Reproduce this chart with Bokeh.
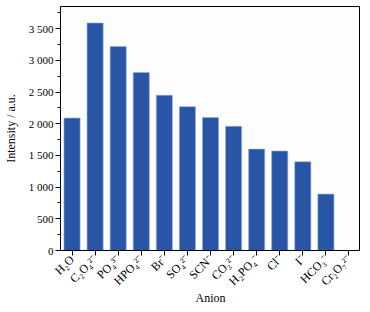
import math
from bokeh.plotting import figure
from bokeh.models import ColumnDataSource, FactorRange, Range1d, FixedTicker
from bokeh.embed import file_html
from bokeh.resources import INLINE

anions = ["H₂O", "C₂O₄²⁻", "PO₄³⁻", "HPO₄²⁻", "Br⁻", "SO₄²⁻", "SCN⁻",
          "CO₃²⁻", "H₂PO₄⁻", "Cl⁻", "I⁻", "HCO₃⁻", "Cr₂O₇²⁻"]
intensity = [2090, 3590, 3220, 2810, 2450, 2270, 2100, 1960, 1600, 1570, 1400, 890, 0]
y_ticks = [0, 500, 1000, 1500, 2000, 2500, 3000, 3500]
y_tick_labels = ["0", "500", "1 000", "1 500", "2 000", "2 500", "3 000", "3 500"]

src = ColumnDataSource(dict(x=anions, y=intensity))

p = figure(frame_width=300, frame_height=244, x_range=FactorRange(*anions),
           y_range=Range1d(0, 3850), output_backend="svg", toolbar_location=None,
           min_border_left=0, min_border_right=0, min_border_top=6, min_border_bottom=0)
p.vbar(x="x", top="y", width=0.7, source=src, fill_color="#2855a6",
       line_color="#9db4dd", line_width=0.6)

FONT = "Liberation Serif"
p.xgrid.visible = False
p.ygrid.visible = False
p.outline_line_color = "black"
p.outline_line_width = 1
p.background_fill_color = "#fdfdfd"
p.border_fill_color = "white"

p.yaxis.ticker = FixedTicker(ticks=y_ticks, minor_ticks=[v + 250 for v in y_ticks])
p.yaxis.major_label_overrides = {v: l for v, l in zip(y_ticks, y_tick_labels)}
p.yaxis.axis_label = "Intensity / a.u."
p.xaxis.axis_label = "Anion"
p.xaxis.major_label_orientation = math.pi / 4

for ax in (p.xaxis[0], p.yaxis[0]):
    ax.axis_line_color = "black"
    ax.major_tick_line_color = "black"
    ax.minor_tick_line_color = "black"
    ax.major_tick_out = 5
    ax.major_tick_in = 0
    ax.minor_tick_out = 3
    ax.minor_tick_in = 0
    ax.major_label_text_font = FONT
    ax.major_label_text_color = "black"
    ax.axis_label_text_font = FONT
    ax.axis_label_text_font_size = "12px"
    ax.axis_label_text_font_style = "normal"
    ax.axis_label_text_color = "black"
    ax.major_label_standoff = 2
    ax.axis_label_standoff = 2

p.yaxis.major_label_text_font_size = "11px"
p.xaxis.major_label_text_font_size = "12px"
p.yaxis.axis_label_standoff = 8
p.xaxis.axis_label_standoff = -5

open("out.html", "w").write(file_html(p, INLINE))
